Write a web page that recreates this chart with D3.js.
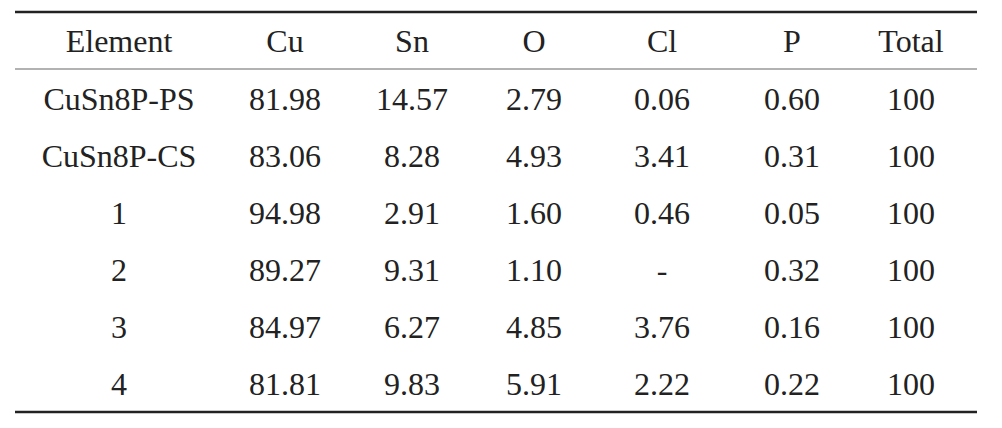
<!DOCTYPE html>
<html>
<head>
<meta charset="utf-8">
<script src="https://cdn.jsdelivr.net/npm/d3@7"></script>
<style>
  html, body { margin: 0; padding: 0; background: #fff; }
  svg { display: block; }
  svg text { font-family: "Liberation Serif", "Times New Roman", Times, serif; font-size: 32px; fill: #222; }
</style>
</head>
<body>
<script>
// table contents
const columns = ["Element", "Cu", "Sn", "O", "Cl", "P", "Total"];
const samples = ["CuSn8P-PS", "CuSn8P-CS", "1", "2", "3", "4"];
const cu    = ["81.98", "83.06", "94.98", "89.27", "84.97", "81.81"];
const sn    = ["14.57", "8.28", "2.91", "9.31", "6.27", "9.83"];
const o     = ["2.79", "4.93", "1.60", "1.10", "4.85", "5.91"];
const cl    = ["0.06", "3.41", "0.46", "-", "3.76", "2.22"];
const p     = ["0.60", "0.31", "0.05", "0.32", "0.16", "0.22"];
const total = ["100", "100", "100", "100", "100", "100"];

const width = 1002, height = 428;
const left = 15, right = 977;

const rows = samples.map((s, i) => [s, cu[i], sn[i], o[i], cl[i], p[i], total[i]]);

const x = d3.scaleOrdinal()
  .domain(columns)
  .range([119, 285, 412, 534, 662, 792, 911]);

const y = d3.scalePoint()
  .domain(d3.range(rows.length))
  .range([110, 395]);

const svg = d3.select("body").append("svg")
  .attr("width", width)
  .attr("height", height);

// rules
svg.append("line")
  .attr("x1", left).attr("x2", right)
  .attr("y1", 12).attr("y2", 12)
  .attr("stroke", "#222").attr("stroke-width", 2.5);

svg.append("line")
  .attr("x1", left).attr("x2", right)
  .attr("y1", 69).attr("y2", 69)
  .attr("stroke", "#999").attr("stroke-width", 1.6);

svg.append("line")
  .attr("x1", left).attr("x2", right)
  .attr("y1", 412).attr("y2", 412)
  .attr("stroke", "#222").attr("stroke-width", 2.5);

// header
svg.append("g").selectAll("text")
  .data(columns)
  .join("text")
    .attr("x", d => x(d))
    .attr("y", 52)
    .attr("text-anchor", "middle")
    .text(d => d);

// body
const rowG = svg.append("g").selectAll("g")
  .data(rows)
  .join("g")
    .attr("transform", (d, i) => `translate(0,${y(i)})`);

rowG.selectAll("text")
  .data(d => d.map((v, j) => ({col: columns[j], v})))
  .join("text")
    .attr("x", d => x(d.col))
    .attr("text-anchor", "middle")
    .text(d => d.v);
</script>
</body>
</html>
